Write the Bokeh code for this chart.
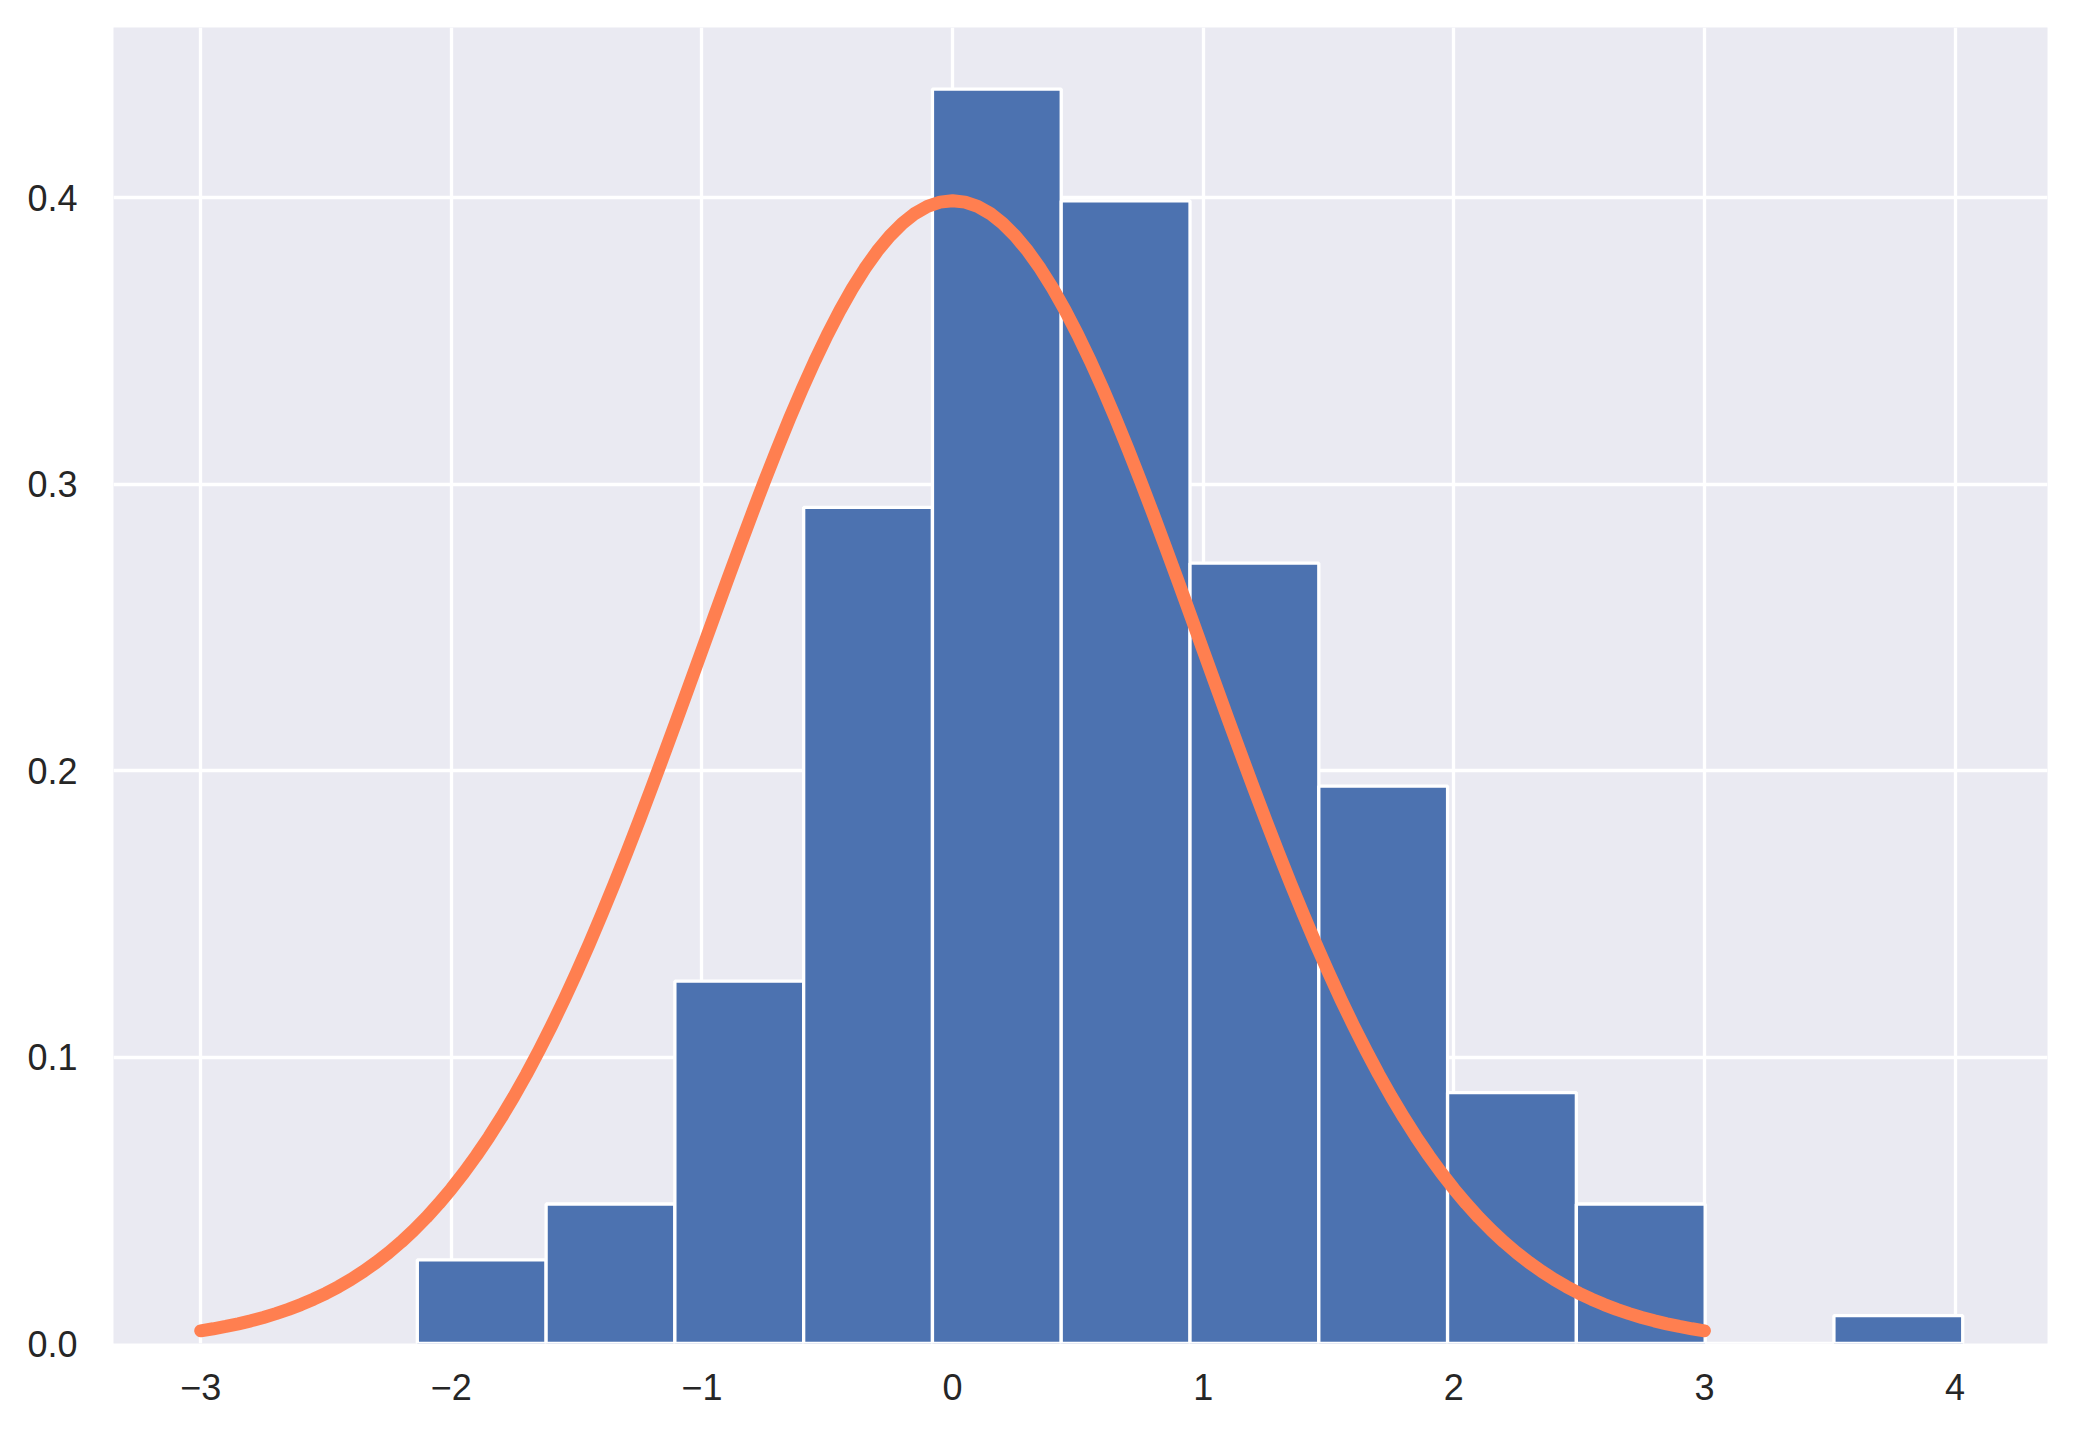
from bokeh.plotting import figure
from bokeh.models import Range1d, FixedTicker, ColumnDataSource
from bokeh.embed import file_html
from bokeh.resources import INLINE

# Histogram bins (edges) and density heights
bin_left = [-2.1357, -1.6218, -1.1080, -0.5941, -0.0802, 0.4336,
            0.9475, 1.4614, 1.9752, 2.4891, 3.0030, 3.5168]
bin_right = [-1.6218, -1.1080, -0.5941, -0.0802, 0.4336, 0.9475,
             1.4614, 1.9752, 2.4891, 3.0030, 3.5168, 4.0307]
density = [0.0292, 0.0487, 0.1265, 0.2919, 0.4379, 0.3989,
           0.2724, 0.1946, 0.0876, 0.0487, 0.0, 0.0097]

# Fitted curve points
curve_x = [-3.00, -2.95, -2.90, -2.85, -2.80, -2.75, -2.70, -2.65, -2.60, -2.55,
           -2.50, -2.45, -2.40, -2.35, -2.30, -2.25, -2.20, -2.15, -2.10, -2.05,
           -2.00, -1.95, -1.90, -1.85, -1.80, -1.75, -1.70, -1.65, -1.60, -1.55,
           -1.50, -1.45, -1.40, -1.35, -1.30, -1.25, -1.20, -1.15, -1.10, -1.05,
           -1.00, -0.95, -0.90, -0.85, -0.80, -0.75, -0.70, -0.65, -0.60, -0.55,
           -0.50, -0.45, -0.40, -0.35, -0.30, -0.25, -0.20, -0.15, -0.10, -0.05,
           0.00, 0.05, 0.10, 0.15, 0.20, 0.25, 0.30, 0.35, 0.40, 0.45,
           0.50, 0.55, 0.60, 0.65, 0.70, 0.75, 0.80, 0.85, 0.90, 0.95,
           1.00, 1.05, 1.10, 1.15, 1.20, 1.25, 1.30, 1.35, 1.40, 1.45,
           1.50, 1.55, 1.60, 1.65, 1.70, 1.75, 1.80, 1.85, 1.90, 1.95,
           2.00, 2.05, 2.10, 2.15, 2.20, 2.25, 2.30, 2.35, 2.40, 2.45,
           2.50, 2.55, 2.60, 2.65, 2.70, 2.75, 2.80, 2.85, 2.90, 2.95, 3.00]
curve_y = [0.00443, 0.00514, 0.00595, 0.00687, 0.00792, 0.00909, 0.01042, 0.01191, 0.01358, 0.01545,
           0.01753, 0.01984, 0.02239, 0.02522, 0.02833, 0.03174, 0.03547, 0.03955, 0.04398, 0.04879,
           0.05399, 0.05959, 0.06562, 0.07206, 0.07895, 0.08628, 0.09405, 0.10227, 0.11092, 0.12001,
           0.12952, 0.13943, 0.14973, 0.16038, 0.17137, 0.18265, 0.19419, 0.20594, 0.21785, 0.22988,
           0.24197, 0.25406, 0.26609, 0.27799, 0.28969, 0.30114, 0.31225, 0.32297, 0.33322, 0.34294,
           0.35207, 0.36053, 0.36827, 0.37524, 0.38139, 0.38667, 0.39104, 0.39448, 0.39695, 0.39844,
           0.39894, 0.39844, 0.39695, 0.39448, 0.39104, 0.38667, 0.38139, 0.37524, 0.36827, 0.36053,
           0.35207, 0.34294, 0.33322, 0.32297, 0.31225, 0.30114, 0.28969, 0.27799, 0.26609, 0.25406,
           0.24197, 0.22988, 0.21785, 0.20594, 0.19419, 0.18265, 0.17137, 0.16038, 0.14973, 0.13943,
           0.12952, 0.12001, 0.11092, 0.10227, 0.09405, 0.08628, 0.07895, 0.07206, 0.06562, 0.05959,
           0.05399, 0.04879, 0.04398, 0.03955, 0.03547, 0.03174, 0.02833, 0.02522, 0.02239, 0.01984,
           0.01753, 0.01545, 0.01358, 0.01191, 0.01042, 0.00909, 0.00792, 0.00687, 0.00595, 0.00514, 0.00443]

x_ticks = [-3, -2, -1, 0, 1, 2, 3, 4]
x_tick_labels = ["\u22123", "\u22122", "\u22121", "0", "1", "2", "3", "4"]
y_ticks = [0.0, 0.1, 0.2, 0.3, 0.4]
y_tick_labels = ["0.0", "0.1", "0.2", "0.3", "0.4"]

FONT = "Liberation Sans"
TXT = "#262626"

p = figure(width=2065, height=1430, output_backend="svg", toolbar_location=None,
           x_range=Range1d(-3.348, 4.369), y_range=Range1d(0.0, 0.4594),
           min_border_left=113, min_border_right=18, min_border_top=27, min_border_bottom=87)

p.background_fill_color = "#EAEAF2"
p.border_fill_color = "white"
p.outline_line_color = None

for ax in (p.xaxis[0], p.yaxis[0]):
    ax.axis_line_color = None
    ax.major_tick_line_color = None
    ax.minor_tick_line_color = None
    ax.major_tick_in = 0
    ax.major_tick_out = 0
    ax.minor_tick_in = 0
    ax.minor_tick_out = 0
    ax.major_label_text_font = FONT
    ax.major_label_text_font_size = "36px"
    ax.major_label_text_color = TXT

p.xaxis.ticker = FixedTicker(ticks=x_ticks)
p.xaxis.major_label_overrides = {t: l for t, l in zip(x_ticks, x_tick_labels)}
p.xaxis.major_label_standoff = 30
p.yaxis.ticker = FixedTicker(ticks=y_ticks)
p.yaxis.major_label_overrides = {t: l for t, l in zip(y_ticks, y_tick_labels)}
p.yaxis.major_label_standoff = 36

p.xgrid.ticker = FixedTicker(ticks=x_ticks)
p.ygrid.ticker = FixedTicker(ticks=y_ticks)
for g in (p.xgrid[0], p.ygrid[0]):
    g.grid_line_color = "white"
    g.grid_line_width = 3.3

bars = ColumnDataSource(dict(left=bin_left, right=bin_right, top=density,
                             bottom=[0.0] * len(density)))
p.quad(left="left", right="right", top="top", bottom="bottom", source=bars,
       fill_color="#4C72B0", line_color="white", line_width=3.3)

p.line(curve_x, curve_y, line_color="#FF7F50", line_width=13, line_cap="round",
       line_join="round")

open("out.html", "w").write(file_html(p, INLINE))
